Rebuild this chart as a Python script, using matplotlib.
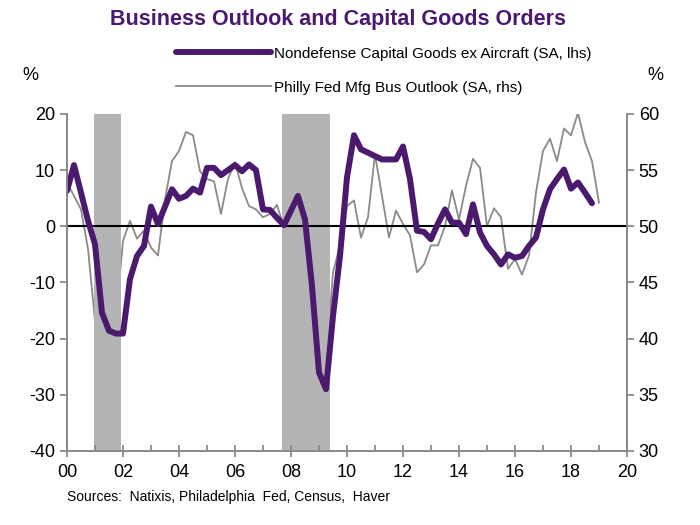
import matplotlib.pyplot as plt
import numpy as np
from matplotlib.ticker import MultipleLocator, FuncFormatter

plt.rcParams['font.family'] = ['Liberation Sans', 'DejaVu Sans']
plt.rcParams['axes.unicode_minus'] = False

# quarterly, starting 2000Q1
capgoods = [6.3, 10.9, 6.0, 1.0,
            -3.2, -15.4, -18.6, -19.1,
            -19.1, -9.4, -5.3, -3.5,
            3.5, 0.4, 3.5, 6.6,
            4.9, 5.4, 6.7, 6.0,
            10.4, 10.4, 9.1, 10.0,
            10.9, 9.8, 11.0, 10.0,
            3.0, 2.9, 1.5, 0.2,
            2.8, 5.4, 1.2, -10.6,
            -26.0, -29.0, -16.0, -5.3,
            8.7, 16.2, 13.7, 13.1,
            12.5, 11.9, 11.9, 11.9,
            14.2, 8.4, -0.8, -1.0,
            -2.3, 0.5, 3.0, 0.65,
            0.65, -1.4, 3.9, -1.1,
            -3.5, -5.0, -6.8, -5.0,
            -5.6, -5.3, -3.5, -2.0,
            3.0, 6.6, 8.4, 10.1,
            6.7, 7.8, 6.0, 4.1]

# Philly Fed outlook, rhs scale
philly = [53.9, 52.7, 51.5, 48.0,
          41.6, 43.8, 42.5, 41.9,
          48.7, 50.5, 48.9, 49.6,
          48.1, 47.4, 52.4, 55.8,
          56.7, 58.4, 58.1, 54.9,
          54.2, 54.0, 51.1, 54.2,
          55.7, 53.4, 51.8, 51.5,
          50.8, 51.1, 51.9, 49.9,
          46.5, 45.3, 44.7, 37.0,
          32.7, 37.6, 45.9, 48.3,
          51.8, 52.3, 49.0, 50.8,
          56.4, 52.7, 49.0, 51.4,
          50.2, 49.2, 45.9, 46.6,
          48.3, 48.3, 50.0, 53.2,
          50.6, 53.6, 56.0, 55.2,
          50.0, 51.6, 50.8, 46.2,
          47.1, 45.7, 47.4, 53.0,
          56.7, 57.8, 55.8, 58.7,
          58.1, 60.1, 57.5, 55.8,
          52.1]

recessions = [(2000.97, 2001.93), (2007.67, 2009.4)]

x_cap = 2000 + np.arange(len(capgoods)) * 0.25
x_phil = 2000 + np.arange(len(philly)) * 0.25

purple = '#4b1a6f'
grey = '#8a8a8a'

fig = plt.figure(figsize=(7, 5.25), dpi=100)
ax = fig.add_axes([0.0957, 0.141, 0.8, 0.642])
ax2 = ax.twinx()

for a, b in recessions:
    ax.axvspan(a, b, color='#b4b4b4', lw=0, zorder=0)

ax.axhline(0, color='black', lw=1.5, zorder=2)
l2, = ax2.plot(x_phil, philly, color=grey, lw=1.3,
               label='Philly Fed Mfg Bus Outlook (SA, rhs)')
l1, = ax.plot(x_cap, capgoods, color=purple, lw=4.3, solid_capstyle='round',
              label='Nondefense Capital Goods ex Aircraft (SA, lhs)')
ax.set_zorder(ax2.get_zorder() + 1)
ax.patch.set_visible(False)

ax.set_xlim(2000, 2020)
ax.set_ylim(-40, 20)
ax2.set_ylim(30, 60)
ax.xaxis.set_major_locator(MultipleLocator(2))
ax.xaxis.set_minor_locator(MultipleLocator(1))
ax.xaxis.set_major_formatter(FuncFormatter(lambda v, p: '%02d' % (int(round(v)) % 100)))
ax.yaxis.set_major_locator(MultipleLocator(10))
ax2.yaxis.set_major_locator(MultipleLocator(5))

for a in (ax, ax2):
    for s in a.spines.values():
        s.set_color(grey)
        s.set_linewidth(1.3)
    a.spines['top'].set_visible(False)
ax.tick_params(axis='x', which='major', direction='inout', length=9, color=grey, width=1.3,
               labelsize=13, pad=5)
ax.tick_params(axis='x', which='minor', direction='in', length=4, color=grey, width=1.3)
ax.tick_params(axis='y', direction='out', length=5, color=grey, width=1.3, labelsize=13)
ax2.tick_params(axis='y', direction='out', length=5, color=grey, width=1.3, labelsize=13)

fig.text(0.043, 0.857, '%', fontsize=13, ha='center', va='center')
fig.text(0.936, 0.857, '%', fontsize=13, ha='center', va='center')

fig.suptitle('Business Outlook and Capital Goods Orders', x=0.483, y=0.983,
             fontsize=15.5, fontweight='bold', color=purple)
fig.legend(handles=[l1, l2], loc='upper left', bbox_to_anchor=(0.232, 0.937),
           frameon=False, fontsize=11, handlelength=6.2, handletextpad=0.2,
           labelspacing=1.3)

fig.text(0.096, 0.045, 'Sources:  Natixis, Philadelphia  Fed, Census,  Haver', fontsize=10)

fig.savefig('out.png', dpi=100)
